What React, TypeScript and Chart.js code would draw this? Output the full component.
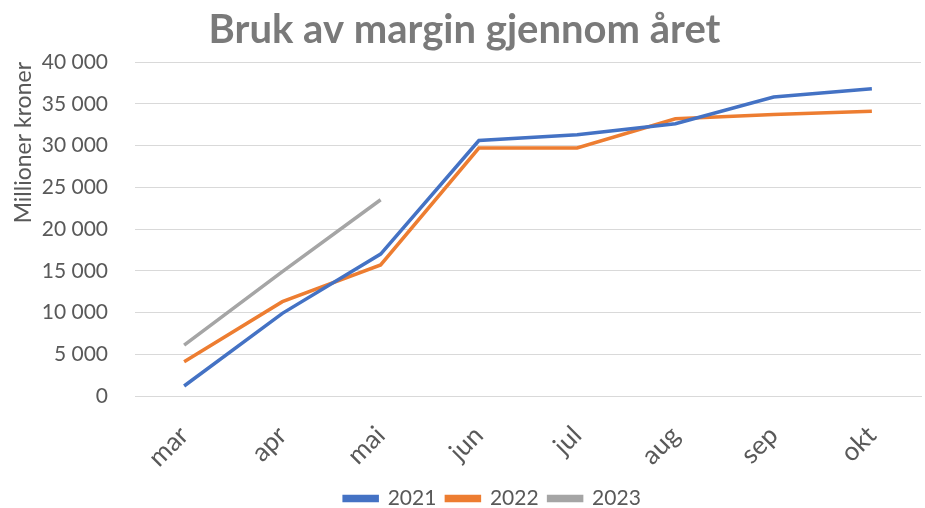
import React, { useEffect, useRef } from "react";
import { Chart, registerables } from "chart.js";

Chart.register(...registerables);

const categories = ["mar", "apr", "mai", "jun", "jul", "aug", "sep", "okt"];
const series2021 = [1200, 9900, 17000, 30600, 31300, 32600, 35800, 36800];
const series2022 = [4100, 11300, 15700, 29700, 29700, 33200, 33700, 34100];
const series2023 = [6100, 14900, 23500, null, null, null, null, null];
const yTicks = [0, 5000, 10000, 15000, 20000, 25000, 30000, 35000, 40000];

const FONT = "Lato, 'Open Sans', sans-serif";
const TEXT = "#595959";

function fmt(v: number): string {
  return String(v).replace(/\B(?=(\d{3})+(?!\d))/g, " ");
}

const legendShift = {
  id: "legendShift",
  afterLayout(chart: any) {
    if (chart.legend) {
      chart.legend.left += 28;
      chart.legend.right += 28;
    }
  },
};

export default function App() {
  const ref = useRef<HTMLCanvasElement | null>(null);
  useEffect(() => {
    if (!ref.current) return;
    const chart = new Chart(ref.current, {
      type: "line",
      data: {
        labels: categories,
        datasets: [
          { label: "2021", data: series2021, borderColor: "#4472C4", backgroundColor: "#4472C4", borderWidth: 3.5, pointRadius: 0 },
          { label: "2022", data: series2022, borderColor: "#ED7D31", backgroundColor: "#ED7D31", borderWidth: 3.5, pointRadius: 0 },
          { label: "2023", data: series2023, borderColor: "#A5A5A5", backgroundColor: "#A5A5A5", borderWidth: 3.5, pointRadius: 0 },
        ],
      },
      plugins: [legendShift],
      options: {
        animation: false,
        responsive: false,
        maintainAspectRatio: false,
        layout: { padding: { left: 8, right: 4, top: 0, bottom: -11 } },
        plugins: {
          title: {
            display: true,
            text: "Bruk av margin gjennom året",
            color: "#7a7a7a",
            font: { family: FONT, size: 40, weight: "bold" },
            padding: { top: 6, bottom: 8 },
          },
          legend: {
            position: "bottom",
            labels: {
              color: TEXT,
              font: { family: FONT, size: 21 },
              boxWidth: 33,
              boxHeight: 4,
              padding: 10,
            },
          },
          tooltip: { enabled: false },
        },
        scales: {
          x: {
            offset: true,
            grid: { display: false },
            border: { color: "#d9d9d9" },
            afterFit: (axis: any) => {
              axis.height = 82;
            },
            ticks: {
              color: TEXT,
              font: { family: FONT, size: 26 },
              maxRotation: 45,
              minRotation: 45,
              padding: 16,
            },
          },
          y: {
            min: 0,
            max: 40000,
            grid: { color: "#d9d9d9", drawTicks: false },
            border: { display: false },
            afterBuildTicks: (axis: any) => {
              axis.ticks = yTicks.map((v) => ({ value: v }));
            },
            afterFit: (axis: any) => {
              axis.width = 127;
            },
            ticks: {
              color: TEXT,
              font: { family: FONT, size: 21 },
              padding: 27,
              callback: (v: any) => fmt(Number(v)),
            },
            title: {
              display: true,
              text: "Millioner kroner",
              align: "end",
              color: TEXT,
              font: { family: FONT, size: 23 },
              padding: 2,
            },
          },
        },
      },
    });
    return () => chart.destroy();
  }, []);
  return (
    <div style={{ position: "absolute", left: 0, top: 0, width: 925, height: 508, background: "#fff" }}>
      <canvas ref={ref} width={925} height={508} style={{ width: 925, height: 508 }} />
    </div>
  );
}
